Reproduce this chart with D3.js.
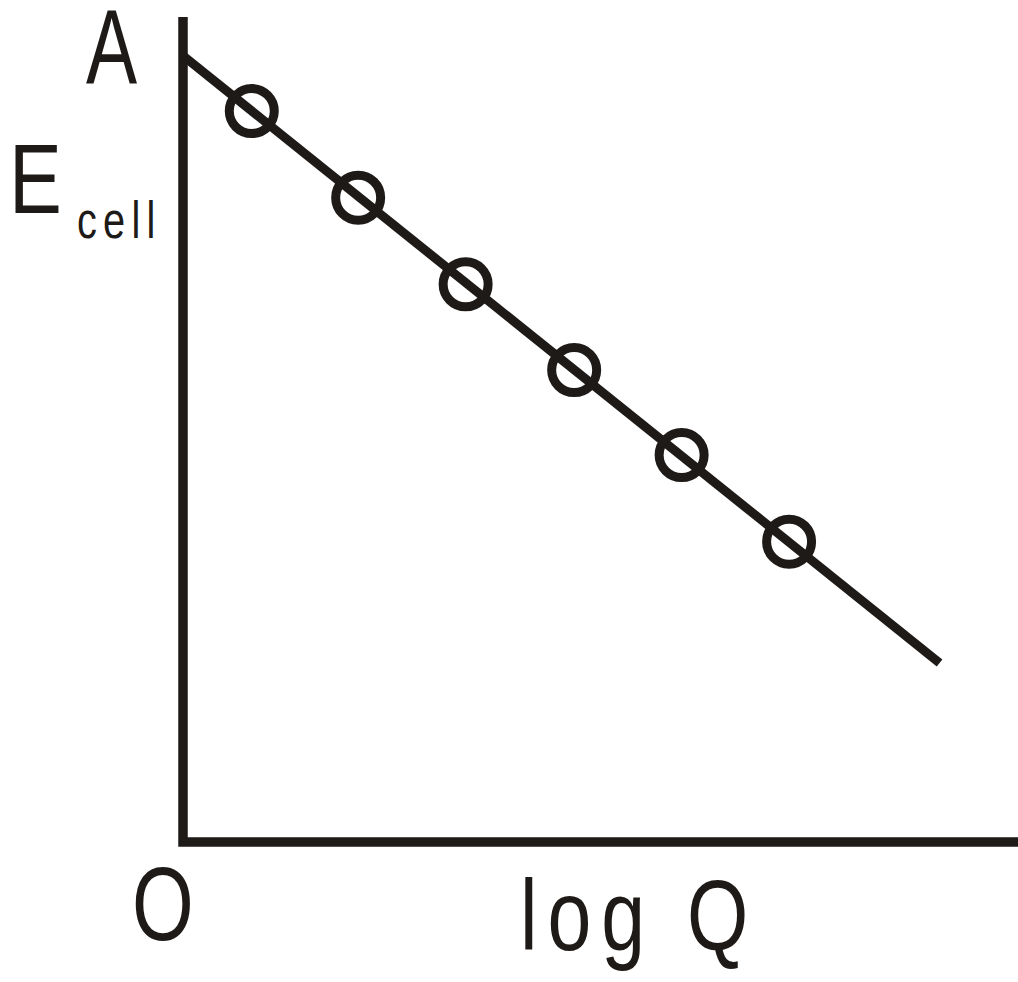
<!DOCTYPE html>
<html>
<head>
<meta charset="utf-8">
<script src="https://cdn.jsdelivr.net/npm/d3@7"></script>
<style>
  html, body { margin: 0; padding: 0; background: #fff; }
  svg { display: block; }
  text { font-family: "Liberation Sans", Arial, sans-serif; fill: #1e1a18; }
</style>
</head>
<body>
<svg id="chart" width="1018" height="982"></svg>
<script>
const pointLogQ = [0.64, 1.63, 2.63, 3.64, 4.64, 5.64];
const pointE = [0.886, 0.781, 0.676, 0.572, 0.469, 0.364];

// Fitted line end points
const lineLogQ = [0, 7.04];
const lineE = [0.953, 0.217];

// Axis extents
const logQDomain = [0, 7.77];
const eDomain = [0, 1];

const ink = '#1e1a18';

const svg = d3.select('#chart');

const x = d3.scaleLinear().domain(logQDomain).range([183, 1018]);
const y = d3.scaleLinear().domain(eDomain).range([842, 17]);

// Axes as one L-shaped path
const axisPts = [
    [logQDomain[0], eDomain[1]],
    [logQDomain[0], eDomain[0]],
    [logQDomain[1], eDomain[0]]
];
const line = d3.line().x(d => x(d[0])).y(d => y(d[1]));

svg.append('path')
    .attr('d', line(axisPts))
    .attr('fill', 'none')
    .attr('stroke', ink)
    .attr('stroke-width', 9.5)
    .attr('stroke-linejoin', 'miter');

// Straight line
svg.append('path')
    .attr('d', line(lineLogQ.map((q, i) => [q, lineE[i]])))
    .attr('fill', 'none')
    .attr('stroke', ink)
    .attr('stroke-width', 9);

// Open circles
svg.selectAll('circle.pt')
    .data(pointLogQ.map((q, i) => [q, pointE[i]]))
    .join('circle')
    .attr('class', 'pt')
    .attr('cx', d => x(d[0]))
    .attr('cy', d => y(d[1]))
    .attr('r', 22.5)
    .attr('fill', 'none')
    .attr('stroke', ink)
    .attr('stroke-width', 9);

// Labels (condensed sans)
function label(str, px, py, size, sx, spacing) {
    svg.append('text')
        .attr('transform', `translate(${px},${py}) scale(${sx},1)`)
        .attr('font-size', size)
        .attr('letter-spacing', spacing || 0)
        .text(str);
}

label('A', 86, 83, 105, 0.73);
label('E', 9, 213, 99, 0.8);
label('cell', 77, 238, 51, 0.78, 8);
label('O', 132, 940, 103, 0.77);
label('log Q', 520, 950, 101, 0.78, 12.8);
</script>
</body>
</html>
